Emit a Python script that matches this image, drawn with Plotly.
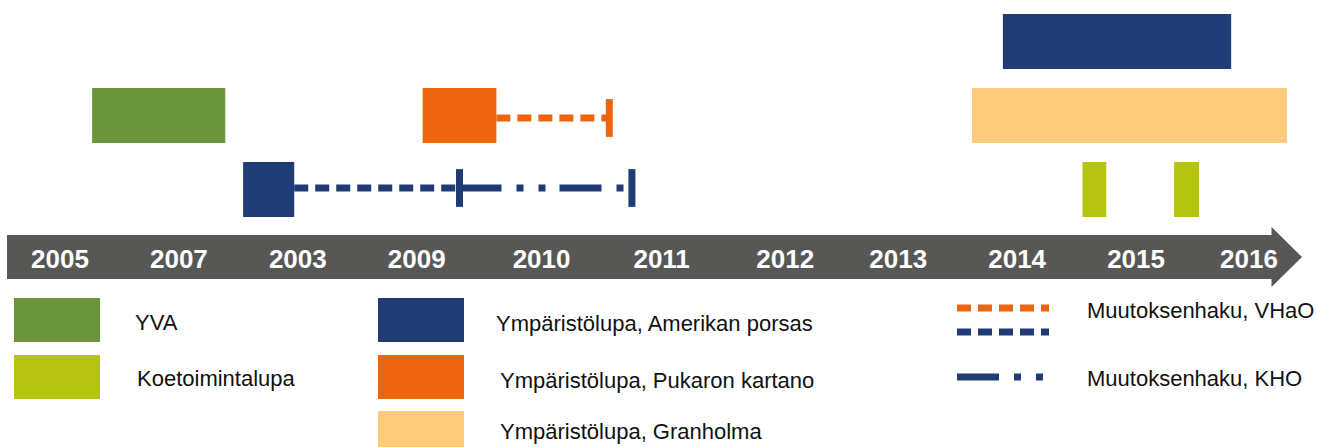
# plot.py
# Permit timeline (YVA / ympäristölupa / muutoksenhaku) drawn with Plotly

import plotly.graph_objects as go

W, H = 1318, 447

# Colours used in the picture
COLORS = {
    'yva'      : '#6B953A',   # green
    'koe'      : '#B4C410',   # yellow-green
    'amerikan' : '#1F3D74',   # navy
    'pukaro'   : '#EC650E',   # orange
    'granholma': '#FDCB7C',   # light orange
    'band'     : '#575756',   # grey arrow
}

# ── Timeline labels (as printed, in the printed order) ──
year_labels = ['2005', '2007', '2003', '2009', '2010', '2011',
               '2012', '2013', '2014', '2015', '2016']
# label centres in timeline units (first label = 0, last label = 10)
year_pos = [0.0, 1.0, 2.0, 3.0, 4.05, 5.06, 6.10, 7.05, 8.05, 9.05, 10.0]

# ── Permit bars: start, end (timeline units) and row (1 = lowest) ──
yva_start, yva_end, yva_row = [0.27], [1.39], [2]
koe_start, koe_end, koe_row = [8.60, 9.37], [8.80, 9.58], [1, 1]
amerikan_start, amerikan_end, amerikan_row = [1.54, 7.93], [1.97, 9.85], [1, 3]
pukaro_start, pukaro_end, pukaro_row = [3.05], [3.67], [2]
granholma_start, granholma_end, granholma_row = [7.67], [10.32], [2]

# ── Appeals (lines ending in a vertical cap) ──
vhao_orange_x, vhao_orange_row = [3.67, 4.62], 2
vhao_navy_x, vhao_navy_row = [1.97, 3.36], 1
kho_x, kho_row = [3.36, 4.81], 1

# ── Legend texts ──
legend_labels = ['YVA', 'Koetoimintalupa',
                 'Ympäristölupa, Amerikan porsas',
                 'Ympäristölupa, Pukaron kartano',
                 'Ympäristölupa, Granholma',
                 'Muutoksenhaku, VHaO',
                 'Muutoksenhaku, KHO']

FONT = 'Liberation Sans, Arial, sans-serif'
DASH = '14px,7px'
DASHDOT = '42px,15px,7px,15px,7px,14px'

# axis scales: 118.9 px per timeline unit, 74 px per row
X0 = -60 / 118.9
X1 = X0 + W / 118.9
Y1 = 1 + 189.5 / 74
Y0 = Y1 - H / 74
LABEL_Y = Y1 - 261 / 74
BAR_W = 55 / 74


def px(x, y):
    # pixel position -> paper coordinates (margins are zero)
    return x / W, 1 - y / H


fig = go.Figure()


def add_bars(start, end, row, color):
    fig.add_trace(go.Bar(
        y=row,
        x=[e - s for s, e in zip(start, end)],
        base=start,
        orientation='h',
        width=BAR_W,
        marker=dict(color=color, line=dict(width=0)),
        hoverinfo='skip',
        showlegend=False,
    ))


def add_appeal(xs, row, color, dash, shift=0.0):
    # shift: small vertical nudge (rows) of the line against its bar
    fig.add_trace(go.Scatter(
        x=xs, y=[row + shift] * 2, mode='lines',
        line=dict(color=color, width=7, dash=dash),
        hoverinfo='skip', showlegend=False,
    ))
    # vertical cap at the end of the appeal
    fig.add_trace(go.Scatter(
        x=[xs[-1]], y=[row + shift], mode='markers',
        marker=dict(symbol='line-ns', size=27,
                    line=dict(color=color, width=7)),
        hoverinfo='skip', showlegend=False,
    ))


add_bars(yva_start, yva_end, yva_row, COLORS['yva'])
add_bars(koe_start, koe_end, koe_row, COLORS['koe'])
add_bars(amerikan_start, amerikan_end, amerikan_row, COLORS['amerikan'])
add_bars(pukaro_start, pukaro_end, pukaro_row, COLORS['pukaro'])
add_bars(granholma_start, granholma_end, granholma_row, COLORS['granholma'])

add_appeal(vhao_orange_x, vhao_orange_row, COLORS['pukaro'], DASH, -2.5 / 74)
add_appeal(vhao_navy_x, vhao_navy_row, COLORS['amerikan'], DASH, 1.5 / 74)
add_appeal(kho_x, kho_row, COLORS['amerikan'], DASHDOT, 1.5 / 74)

# year labels on the grey arrow
fig.add_trace(go.Scatter(
    x=year_pos, y=[LABEL_Y] * len(year_pos), mode='text',
    text=year_labels,
    textfont=dict(family=FONT, size=26, color='white', weight='bold'),
    textposition='middle center',
    hoverinfo='skip', showlegend=False,
))

# ── grey arrow band (drawn below the traces) ──
pts = [px(7, 235), px(1271.5, 235), px(1271.5, 227), px(1302, 257),
       px(1271.5, 287), px(1271.5, 279), px(7, 279)]
path = 'M ' + ' L '.join(f'{a},{b}' for a, b in pts) + ' Z'
shapes = [dict(type='path', path=path, xref='paper', yref='paper',
               fillcolor=COLORS['band'], line=dict(width=0), layer='below')]

# ── legend swatches ──
swatches = [
    (14, 298, COLORS['yva']), (14, 355, COLORS['koe']),
    (378, 298, COLORS['amerikan']), (378, 355, COLORS['pukaro']),
    (378, 411, COLORS['granholma']),
]
for x, y, c in swatches:
    a, b = px(x, y)
    a2, b2 = px(x + 86, y + 44)
    shapes.append(dict(type='rect', xref='paper', yref='paper',
                       x0=a, x1=a2, y0=b2, y1=b,
                       fillcolor=c, line=dict(width=0)))

for y, c, d in [(308, COLORS['pukaro'], DASH), (332, COLORS['amerikan'], DASH),
                (377, COLORS['amerikan'], DASHDOT)]:
    a, b = px(957, y)
    a2, _ = px(1049, y)
    shapes.append(dict(type='line', xref='paper', yref='paper',
                       x0=a, x1=a2, y0=b, y1=b,
                       line=dict(color=c, width=7, dash=d)))

# legend texts
text_pos = [(133, 322), (135, 378), (494, 323), (498, 380), (498, 431),
            (1085, 310), (1085, 378)]
annotations = []
for label, (x, y) in zip(legend_labels, text_pos):
    a, b = px(x, y)
    annotations.append(dict(
        text=label, x=a, y=b, xref='paper', yref='paper',
        xanchor='left', yanchor='middle', showarrow=False,
        font=dict(family=FONT, size=22, color='#111111'),
    ))

fig.update_layout(
    width=W, height=H,
    margin=dict(l=0, r=0, t=0, b=0),
    plot_bgcolor='white',
    paper_bgcolor='white',
    barmode='overlay',
    showlegend=False,
    shapes=shapes,
    annotations=annotations,
    xaxis=dict(range=[X0, X1], visible=False, fixedrange=True),
    yaxis=dict(range=[Y0, Y1], visible=False, fixedrange=True),
)

# the page's default 8px body margin would shift the whole picture
fig.write_html('out.html', config={'displayModeBar': False},
               post_script="document.body.style.margin='0';")
